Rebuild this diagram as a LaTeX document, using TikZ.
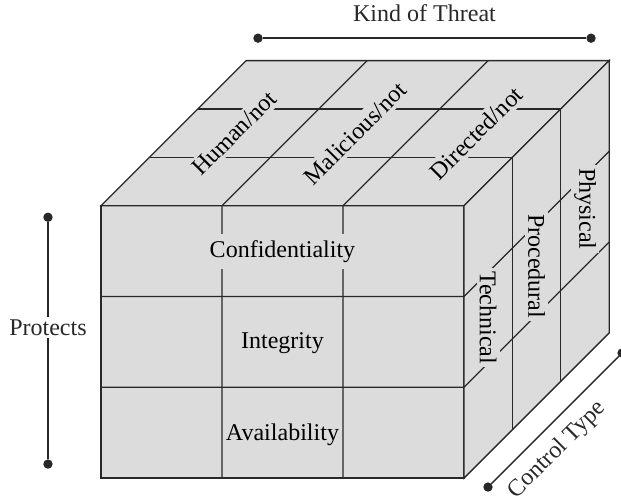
\documentclass[tikz,border=0pt]{standalone}
\usepackage{fontspec}
\setmainfont{Liberation Serif}
\usetikzlibrary{positioning}
\definecolor{cubegray}{RGB}{220,220,220}
\definecolor{edge}{RGB}{40,40,40}

\begin{document}
\begin{tikzpicture}[font=\fontsize{11.3}{13.6}\selectfont,line width=0.65pt,
dot/.style = {draw=edge, circle, fill=edge, inner sep=0pt, minimum size=3.7pt},
face/.style = {draw=edge, fill=cubegray},
lbl/.style = {fill=cubegray, inner sep=1.5pt},]
\useasboundingbox (-1.669,-0.397) rectangle (8.595,7.901);
% faces of the cube
\draw[face] (0,0) rectangle (6,4.5);
\draw[face] (0,4.5)--(2.4,6.9)--(8.4,6.9)--(6,4.5)--cycle;
\draw[face] (6,0)--(8.4,2.4)--(8.4,6.9)--(6,4.5)--cycle;
% cell lines
\foreach \x in {2,4} {\draw[edge] (\x,0)--(\x,4.5)--++(2.4,2.4);}
\foreach \y in {1.5,3} {\draw[edge] (0,\y)--(6,\y)--++(2.4,2.4);}
\foreach \d in {0.8,1.6} {\draw[edge] (\d,4.5+\d)--(6+\d,4.5+\d)--(6+\d,\d);}
% front face
\node (conf) at (3,3.75)[lbl,inner sep=3pt] {Confidentiality};
\node (integ) at (3,2.23) {Integrity};
\node (avail) at (3,0.71) {Availability};
% top face
\node (human) at (2.2,5.7)[lbl,rotate=45] {Human/not};
\node (malic) at (4.2,5.7)[lbl,rotate=45] {Malicious/not};
\node (direc) at (6.2,5.7)[lbl,rotate=45] {Directed/not};
% right face
\node (tech) at (6.4,2.65)[lbl,rotate=-90] {Technical};
\node (proc) at (7.2,3.5)[lbl,rotate=-90] {Procedural};
\node (phys) at (8.0,4.45)[lbl,rotate=-90] {Physical};
% axes
\node (K1) at (2.595,7.27)[dot] {};
\node (K2) at (8.10,7.27)[dot] {};
\node (P1) at (-0.876,4.31)[dot] {};
\node (P2) at (-0.876,0.231)[dot] {};
\node (C1) at (6.397,-0.149)[dot] {};
\node (C2) at (8.612,2.066)[dot] {};
\draw[edge] (K1)--node[above=1.5mm] {Kind of Threat}(K2);
\draw[edge] (P1)--node[pos=0.445,fill=white,inner sep=1pt] {Protects}(P2);
\draw[edge] (C1)--node[pos=0.39,below=2pt,sloped] {Control Type}(C2);
\end{tikzpicture}
\end{document}
